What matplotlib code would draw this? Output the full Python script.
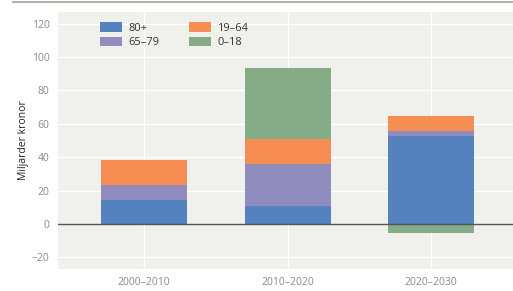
import numpy as np
import matplotlib
matplotlib.use("Agg")
import matplotlib.pyplot as plt
from matplotlib.lines import Line2D

plt.rcParams['font.family'] = ['Open Sans', 'DejaVu Sans']

periods = ["2000–2010", "2010–2020", "2020–2030"]
age_80 = [14.3, 10.9, 52.7]
age_65_79 = [9.0, 24.9, 2.8]
age_19_64 = [15.3, 14.8, 9.2]
age_0_18 = [0.0, 43.0, -5.4]

c_blue = "#5382BE"
c_purple = "#908DBE"
c_orange = "#F68D52"
c_green = "#86AC87"

fig = plt.figure(figsize=(5.13, 2.91), dpi=100)
ax = fig.add_axes([58/513, 22/291, 455/513, 257/291])
ax.set_facecolor("#F0F0EC")

x = np.arange(len(periods))
w = 0.6
a80 = np.array(age_80)
a65 = np.array(age_65_79)
a19 = np.array(age_19_64)
a0 = np.array(age_0_18)

ax.bar(x, a80, w, color=c_blue, label="80+", zorder=3)
ax.bar(x, a65, w, bottom=a80, color=c_purple, label="65–79", zorder=3)
ax.bar(x, a19, w, bottom=a80 + a65, color=c_orange, label="19–64", zorder=3)
pos0 = np.where(a0 > 0, a80 + a65 + a19, 0)
ax.bar(x, a0, w, bottom=pos0, color=c_green, label="0–18", zorder=3)

ax.axhline(0, color="#555555", lw=1.0, zorder=4)

ax.set_xlim(-0.6, 2.57)
ax.set_ylim(-27, 127)
ax.set_yticks([-20, 0, 20, 40, 60, 80, 100, 120])
ax.set_xticks(x)
ax.set_xticklabels(periods)
ax.grid(True, color="white", lw=1.0, zorder=0)
for s in ax.spines.values():
    s.set_visible(False)
ax.tick_params(length=0, labelsize=7.5, colors="#8a8a8a", pad=6)
ax.set_ylabel("Miljarder kronor", fontsize=7.5, color="#222222", labelpad=2)

h, l = ax.get_legend_handles_labels()
ax.legend(h, l, ncol=2, loc="upper left", bbox_to_anchor=(0.07, 1.0),
          frameon=False, fontsize=8, handlelength=2.0, handleheight=1.0,
          columnspacing=2.6, labelspacing=0.25, handletextpad=0.6,
          labelcolor="#333333")

fig.add_artist(Line2D([13/513, 1.0], [1 - 2/291, 1 - 2/291],
                      color="#B8B0A8", lw=1.5))

fig.savefig("out.png", dpi=100)
